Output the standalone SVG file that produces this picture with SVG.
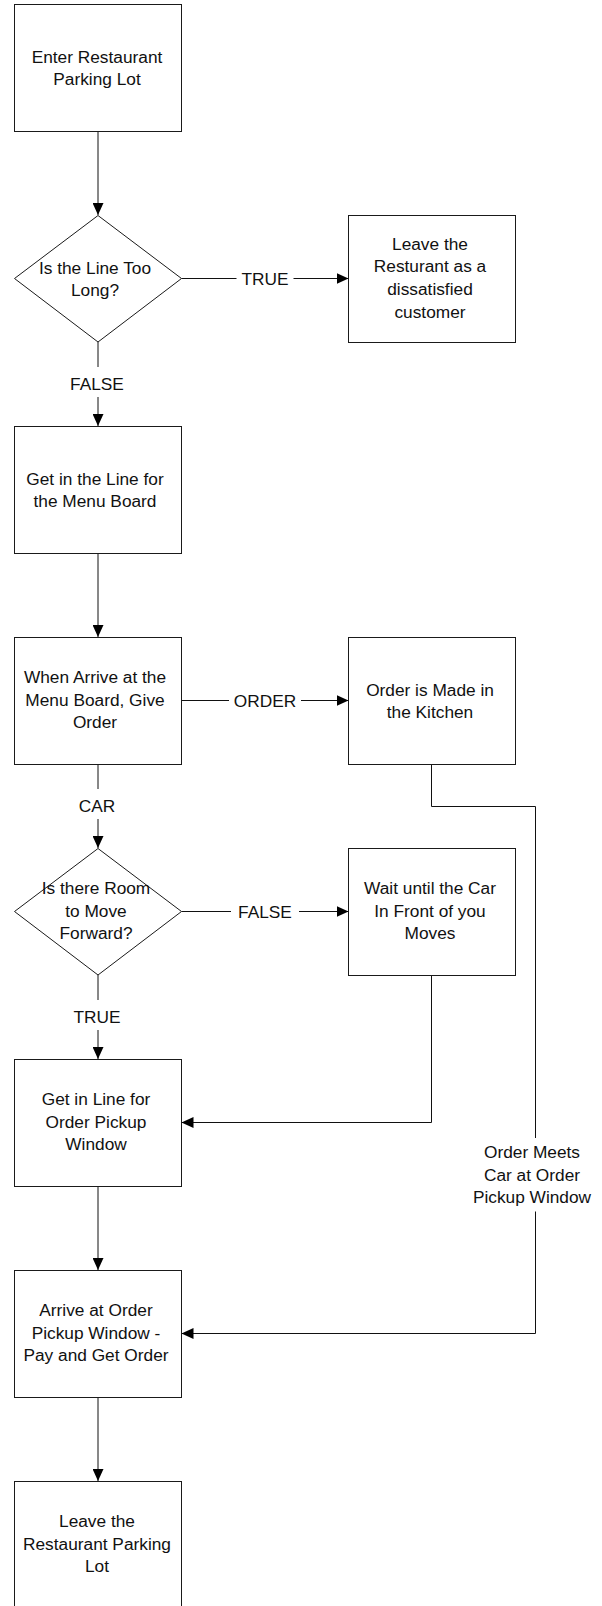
<svg xmlns="http://www.w3.org/2000/svg" width="602" height="1606" viewBox="0 0 602 1606">
<style>
.n{fill:#fff;stroke:#1a1a1a;stroke-width:1}
.t{font-family:"Liberation Sans",Arial,sans-serif;font-size:17.3px;fill:#111;text-anchor:middle}
.c{fill:none;stroke:#111;stroke-width:1}
</style>
<defs>
<marker id="ah" markerUnits="userSpaceOnUse" markerWidth="12" markerHeight="11" refX="12" refY="5.5" orient="auto" viewBox="0 0 12 11">
<path d="M0,0 L12,5.5 L0,11 z" fill="#000"/>
</marker>
</defs>
<rect width="602" height="1606" fill="#fff"/>
<g id="connectors">
<path class="c" d="M98,131 V215" marker-end="url(#ah)"/>
<path class="c" d="M181.5,278.5 H236.5"/>
<path class="c" d="M293.5,278.5 H348.5" marker-end="url(#ah)"/>
<path class="c" d="M98,342 V367"/>
<path class="c" d="M98,397 V426" marker-end="url(#ah)"/>
<path class="c" d="M98,553 V637" marker-end="url(#ah)"/>
<path class="c" d="M181.5,700.5 H229"/>
<path class="c" d="M301,700.5 H348.5" marker-end="url(#ah)"/>
<path class="c" d="M98,764 V789"/>
<path class="c" d="M98,819 V848" marker-end="url(#ah)"/>
<path class="c" d="M181.5,911.5 H231"/>
<path class="c" d="M299,911.5 H348.5" marker-end="url(#ah)"/>
<path class="c" d="M98,975 V1000"/>
<path class="c" d="M98,1030 V1059" marker-end="url(#ah)"/>
<path class="c" d="M431.5,975 V1122.5 H181.5" marker-end="url(#ah)"/>
<path class="c" d="M431.5,764 V806.5 H535.5 V1138"/>
<path class="c" d="M535.5,1211.5 V1333.5 H181.5" marker-end="url(#ah)"/>
<path class="c" d="M98,1186 V1270" marker-end="url(#ah)"/>
<path class="c" d="M98,1397 V1481" marker-end="url(#ah)"/>
<text class="t" x="265" y="284.7">TRUE</text>
<text class="t" x="97" y="390.2">FALSE</text>
<text class="t" x="265" y="706.7">ORDER</text>
<text class="t" x="97" y="812.2">CAR</text>
<text class="t" x="265" y="917.7">FALSE</text>
<text class="t" x="97" y="1023.2">TRUE</text>
<text class="t" x="532" y="1158.3">Order Meets</text>
<text class="t" x="532" y="1181">Car at Order</text>
<text class="t" x="532" y="1203.3">Pickup Window</text>
</g>
<g id="enter">
<rect class="n" x="14.5" y="4.5" width="167" height="127"/>
<text class="t" x="97" y="62.7">Enter Restaurant</text>
<text class="t" x="97" y="85.3">Parking Lot</text>
</g>
<g id="lineTooLong">
<path class="n" d="M98,215.5 L181.5,278.5 L98,342 L14.5,278.5 Z"/>
<text class="t" x="95" y="273.7">Is the Line Too</text>
<text class="t" x="95" y="296.3">Long?</text>
</g>
<g id="leaveDissatisfied">
<rect class="n" x="348.5" y="215.5" width="167" height="127"/>
<text class="t" x="430" y="249.7">Leave the</text>
<text class="t" x="430" y="272.3">Resturant as a</text>
<text class="t" x="430" y="294.9">dissatisfied</text>
<text class="t" x="430" y="317.5">customer</text>
</g>
<g id="getInLineMenu">
<rect class="n" x="14.5" y="426.5" width="167" height="127"/>
<text class="t" x="95" y="484.7">Get in the Line for</text>
<text class="t" x="95" y="507.3">the Menu Board</text>
</g>
<g id="giveOrder">
<rect class="n" x="14.5" y="637.5" width="167" height="127"/>
<text class="t" x="95" y="683">When Arrive at the</text>
<text class="t" x="95" y="705.6">Menu Board, Give</text>
<text class="t" x="95" y="728.2">Order</text>
</g>
<g id="kitchen">
<rect class="n" x="348.5" y="637.5" width="167" height="127"/>
<text class="t" x="430" y="695.7">Order is Made in</text>
<text class="t" x="430" y="718.3">the Kitchen</text>
</g>
<g id="roomForward">
<path class="n" d="M98,848.5 L181.5,911.5 L98,975 L14.5,911.5 Z"/>
<text class="t" x="96" y="894">Is there Room</text>
<text class="t" x="96" y="916.6">to Move</text>
<text class="t" x="96" y="939.2">Forward?</text>
</g>
<g id="waitCar">
<rect class="n" x="348.5" y="848.5" width="167" height="127"/>
<text class="t" x="430" y="894">Wait until the Car</text>
<text class="t" x="430" y="916.6">In Front of you</text>
<text class="t" x="430" y="939.2">Moves</text>
</g>
<g id="getInLinePickup">
<rect class="n" x="14.5" y="1059.5" width="167" height="127"/>
<text class="t" x="96" y="1105">Get in Line for</text>
<text class="t" x="96" y="1127.6">Order Pickup</text>
<text class="t" x="96" y="1150.2">Window</text>
</g>
<g id="arrivePickup">
<rect class="n" x="14.5" y="1270.5" width="167" height="127"/>
<text class="t" x="96" y="1316">Arrive at Order</text>
<text class="t" x="96" y="1338.6">Pickup Window -</text>
<text class="t" x="96" y="1361.2">Pay and Get Order</text>
</g>
<g id="leaveLot">
<rect class="n" x="14.5" y="1481.5" width="167" height="127"/>
<text class="t" x="97" y="1527">Leave the</text>
<text class="t" x="97" y="1549.6">Restaurant Parking</text>
<text class="t" x="97" y="1572.2">Lot</text>
</g>
</svg>
